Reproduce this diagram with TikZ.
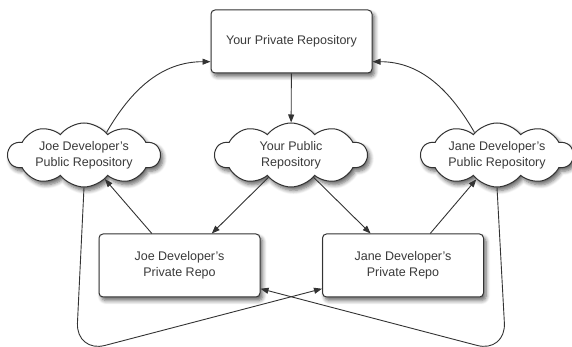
\documentclass[tikz,border=0pt]{standalone}
\usepackage{fontspec}
\setmainfont{Liberation Sans}
\usetikzlibrary{shapes.symbols,shadows.blur,arrows.meta}

\definecolor{inkgray}{HTML}{333333}
\definecolor{textgray}{HTML}{3A3A3A}

\tikzset{
  softshadow/.style={blur shadow={shadow xshift=2.5pt, shadow yshift=-3.5pt,
      shadow blur radius=4pt, shadow blur steps=6, shadow opacity=60}},
  repo/.style={draw=inkgray, line width=1pt, fill=white, rounded corners=4pt,
      minimum width=161pt, minimum height=63pt, align=center, text=textgray,
      font=\fontsize{12.5}{16}\selectfont, softshadow},
  pubrepo/.style={cloud, cloud puffs=10, cloud puff arc=105, cloud ignores aspect,
      draw=inkgray, line width=1pt, fill=white, inner xsep=-30pt, inner ysep=-10pt,
      minimum width=152pt, minimum height=64pt, align=center, text=textgray,
      font=\fontsize{12.5}{16}\selectfont, softshadow},
  flow/.style={draw=inkgray, line width=0.9pt, -{Triangle[length=8pt,width=6pt]}}
}

\begin{document}
\begin{tikzpicture}[x=1pt,y=1pt]
  \useasboundingbox (0,0) rectangle (572,347);

  % repositories
  \node[repo] (mypriv) at (291.5,305.5) {Your Private Repository};
  \node[pubrepo] (mypub) at (291,192) {Your Public\\Repository};
  \node[pubrepo] (joepub) at (84,192) {Joe Developer's\\Public Repository};
  \node[pubrepo] (janepub) at (497,192) {Jane Developer's\\Public Repository};
  \node[repo] (joepriv) at (179.5,81.5) {Joe Developer's\\Private Repo};
  \node[repo] (janepriv) at (403,81.5) {Jane Developer's\\Private Repo};

  % pushes and pulls
  \draw[flow] (mypriv) -- (mypub);
  \draw[flow] (joepub.45) to[out=60,in=180] (mypriv.194);
  \draw[flow] (janepub.135) to[out=120,in=0] (mypriv.-14);
  \draw[flow] (mypub) -- (joepriv);
  \draw[flow] (mypub) -- (janepriv);
  \draw[flow] (joepriv) -- (joepub);
  \draw[flow] (janepriv) -- (janepub);

  \coordinate (joebend) at (76,-6);
  \coordinate (janebend) at (506,-6);
  \draw[flow, rounded corners=30pt] (joepub.south) -- (joebend) -- (janepriv.196);
  \draw[flow, rounded corners=30pt] (janepub.south) -- (janebend) -- (joepriv.-16);
\end{tikzpicture}
\end{document}
